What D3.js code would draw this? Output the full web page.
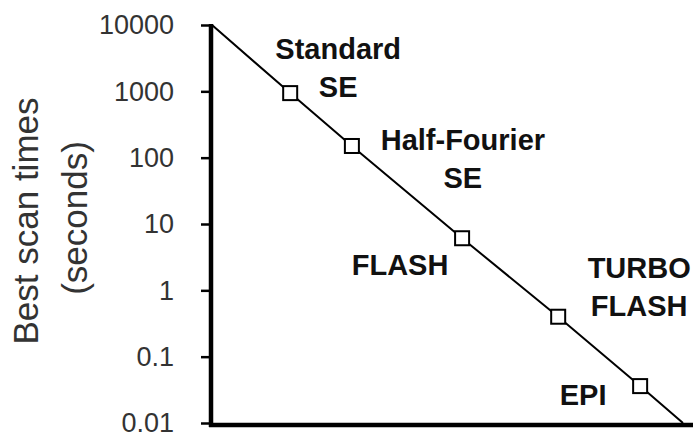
<!DOCTYPE html>
<html>
<head>
<meta charset="utf-8">
<script src="https://cdn.jsdelivr.net/npm/d3@7"></script>
<style>
    body { margin: 0; background: #fff; }
    svg { display: block; }
    .tick text { font-family: "Liberation Sans", Arial, sans-serif; fill: #333; }
    .label { font-family: "Liberation Sans", Arial, sans-serif; font-weight: bold; fill: #111; }
    .ytitle { font-family: "Liberation Sans", Arial, sans-serif; fill: #333; }
</style>
</head>
<body>
<div id="chart"></div>
<script>
/*global d3*/
// techniques and their best scan times (seconds), x = relative position along the trend
var techniques = ["Standard\nSE", "Half-Fourier\nSE", "FLASH", "TURBO\nFLASH", "EPI"];
var positions = [16.6, 29.7, 53.1, 73.5, 90.9];
var scanTimes = [940, 150, 6.1, 0.4, 0.036];
// trend line ends
var trendX = [0, 100];
var trendY = [10000, 0.01];
var yTicks = [10000, 1000, 100, 10, 1, 0.1, 0.01];
var yTickLabels = ["10000", "1000", "100", "10", "1", "0.1", "0.01"];

(function () {
    "use strict";
    var W = 693, H = 436,
        axisX = 211,
        x = d3.scaleLinear().domain([0, 100]).range([212, 683]),
        y = d3.scaleLog().domain([0.01, 10000]).range([423, 25]),
        // label offsets from the marker (px): dx, dy of first baseline
        labelOffsets = [[48, -34], [111, 4], [-62, 37], [81, -39], [-57, 19]],
        lineGap = 38;

    var svg = d3.select("#chart").append("svg")
        .attr("width", W)
        .attr("height", H);

    // y axis
    var yAxis = d3.axisLeft(y)
        .tickValues(yTicks)
        .tickFormat(function (d, i) { return yTickLabels[i]; })
        .tickSize(10)
        .tickPadding(27);
    var gy = svg.append("g")
        .attr("transform", "translate(" + axisX + ",0)")
        .call(yAxis);
    gy.select(".domain").remove();
    gy.selectAll(".tick line").attr("stroke", "#000").attr("stroke-width", 2.5);
    gy.selectAll(".tick text").attr("font-size", 27).attr("dy", "0.33em");

    // axis lines
    svg.append("line")
        .attr("x1", axisX).attr("x2", axisX)
        .attr("y1", y(10000) - 1).attr("y2", y(0.01) + 4)
        .attr("stroke", "#000").attr("stroke-width", 4.5);
    svg.append("line")
        .attr("x1", axisX - 2).attr("x2", W)
        .attr("y1", y(0.01) + 2).attr("y2", y(0.01) + 2)
        .attr("stroke", "#000").attr("stroke-width", 4.5);

    // y title
    var yt = svg.append("g").attr("class", "ytitle");
    yt.append("text")
        .attr("transform", "translate(38,221) rotate(-90)")
        .attr("text-anchor", "middle")
        .attr("font-size", 35)
        .text("Best scan times");
    yt.append("text")
        .attr("transform", "translate(87,218) rotate(-90)")
        .attr("text-anchor", "middle")
        .attr("font-size", 35)
        .text("(seconds)");

    // trend line through all points
    var pts = [[trendX[0], trendY[0]]]
        .concat(positions.map(function (p, i) { return [p, scanTimes[i]]; }))
        .concat([[trendX[1], trendY[1]]]);
    svg.append("path")
        .datum(pts)
        .attr("fill", "none")
        .attr("stroke", "#000")
        .attr("stroke-width", 2)
        .attr("d", d3.line()
            .x(function (d) { return x(d[0]); })
            .y(function (d) { return y(d[1]); }));

    // markers
    svg.append("g").selectAll("rect")
        .data(positions)
        .enter().append("rect")
        .attr("x", function (d) { return x(d) - 7; })
        .attr("y", function (d, i) { return y(scanTimes[i]) - 7; })
        .attr("width", 14)
        .attr("height", 14)
        .attr("fill", "#fff")
        .attr("stroke", "#000")
        .attr("stroke-width", 2);

    // labels
    svg.append("g").selectAll("text")
        .data(techniques)
        .enter().append("text")
        .attr("class", "label")
        .attr("font-size", 29)
        .attr("text-anchor", "middle")
        .each(function (d, i) {
            var cx = x(positions[i]) + labelOffsets[i][0],
                cy = y(scanTimes[i]) + labelOffsets[i][1];
            d3.select(this).selectAll("tspan")
                .data(d.split("\n"))
                .enter().append("tspan")
                .attr("x", cx)
                .attr("y", function (s, j) { return cy + j * lineGap; })
                .text(function (s) { return s; });
        });
}());
</script>
</body>
</html>
